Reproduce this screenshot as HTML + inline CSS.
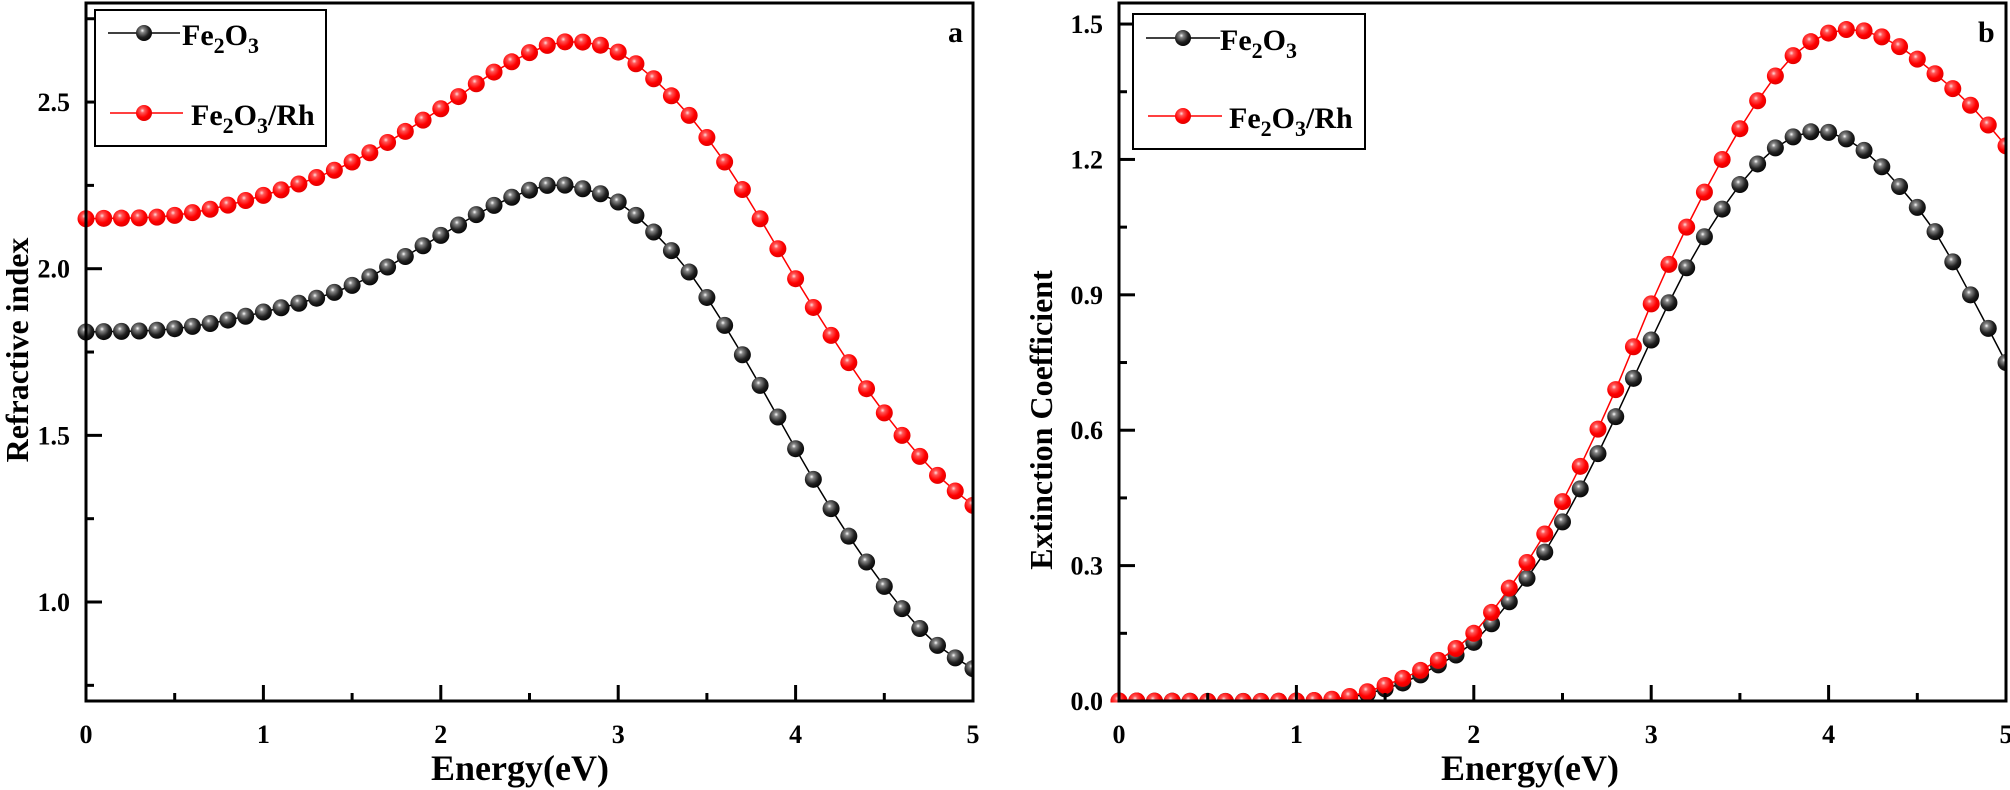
<!DOCTYPE html>
<html><head><meta charset="utf-8"><style>
body{margin:0;background:#fff}
svg{display:block;font-family:"Liberation Serif",serif;font-weight:bold}
</style></head><body>
<svg id="s" width="2010" height="790" xmlns="http://www.w3.org/2000/svg">
<defs>
<radialGradient id="gk" cx="0.4" cy="0.35" r="0.7"><stop offset="0" stop-color="#fff"/><stop offset="0.18" stop-color="#888"/><stop offset="0.6" stop-color="#222"/><stop offset="1" stop-color="#000"/></radialGradient>
<radialGradient id="gr" cx="0.4" cy="0.35" r="0.7"><stop offset="0" stop-color="#fdd"/><stop offset="0.2" stop-color="#f55"/><stop offset="0.6" stop-color="#f00"/><stop offset="1" stop-color="#d00"/></radialGradient>
</defs>
<g id="g"></g>
<!-- legend a -->
<rect x="95" y="10" width="231" height="136" fill="#fff" stroke="#000" stroke-width="2"/>
<line x1="108" y1="33" x2="180" y2="33" stroke="#000" stroke-width="1.5"/><circle cx="144" cy="33" r="8" fill="url(#gk)"/>
<text x="182" y="45" font-size="30">Fe<tspan font-size="22" dy="8">2</tspan><tspan dy="-8">O</tspan><tspan font-size="22" dy="8">3</tspan></text>
<line x1="110" y1="113" x2="183" y2="113" stroke="#f00" stroke-width="1.5"/><circle cx="144" cy="113" r="8" fill="url(#gr)"/>
<text x="191" y="125" font-size="30">Fe<tspan font-size="22" dy="8">2</tspan><tspan dy="-8">O</tspan><tspan font-size="22" dy="8">3</tspan><tspan dy="-8">/Rh</tspan></text>
<!-- legend b -->
<rect x="1133" y="14" width="232" height="135" fill="#fff" stroke="#000" stroke-width="2"/>
<line x1="1146" y1="38" x2="1220" y2="38" stroke="#000" stroke-width="1.5"/><circle cx="1183" cy="38" r="8" fill="url(#gk)"/>
<text x="1220" y="50" font-size="30">Fe<tspan font-size="22" dy="8">2</tspan><tspan dy="-8">O</tspan><tspan font-size="22" dy="8">3</tspan></text>
<line x1="1148" y1="116" x2="1222" y2="116" stroke="#f00" stroke-width="1.5"/><circle cx="1183" cy="116" r="8" fill="url(#gr)"/>
<text x="1229" y="128" font-size="30">Fe<tspan font-size="22" dy="8">2</tspan><tspan dy="-8">O</tspan><tspan font-size="22" dy="8">3</tspan><tspan dy="-8">/Rh</tspan></text>
<text x="948" y="42" font-size="30">a</text>
<text x="1978" y="42" font-size="30">b</text>
<text x="520" y="780" font-size="36" text-anchor="middle">Energy(eV)</text>
<text x="1530" y="780" font-size="36" text-anchor="middle">Energy(eV)</text>
<text transform="translate(28,350) rotate(-90)" font-size="32" text-anchor="middle">Refractive index</text>
<text transform="translate(1052,420) rotate(-90)" font-size="32" text-anchor="middle">Extinction Coefficient</text>
</svg>
<script>
var NS="http://www.w3.org/2000/svg",G=document.getElementById("g");
function el(t,a){var e=document.createElementNS(NS,t);for(var k in a)e.setAttribute(k,a[k]);G.appendChild(e);return e;}
function interp(cp,x){for(var i=0;i<cp.length-1;i++){if(x<=cp[i+1][0]+1e-9){var p0=cp[Math.max(i-1,0)],p1=cp[i],p2=cp[i+1],p3=cp[Math.min(i+2,cp.length-1)];var t=(x-p1[0])/(p2[0]-p1[0]);var m1=(p2[1]-p0[1])/(p2[0]-p0[0]||1)*(p2[0]-p1[0]),m2=(p3[1]-p1[1])/(p3[0]-p1[0]||1)*(p2[0]-p1[0]);var t2=t*t,t3=t2*t;return (2*t3-3*t2+1)*p1[1]+(t3-2*t2+t)*m1+(-2*t3+3*t2)*p2[1]+(t3-t2)*m2;}}return cp[cp.length-1][1];}
function panel(P){
 var X=function(v){return P.x0+v*(P.x5-P.x0)/5},Y=function(v){return P.yb-(v-P.ymin)*P.sy};
 // series
 P.series.forEach(function(s){
  var pts=[];for(var i=0;i<=50;i++){var x=i/10;pts.push([X(x),Y(interp(s.cp,x))]);}
  el("polyline",{points:pts.map(function(p){return p[0]+","+p[1]}).join(" "),fill:"none",stroke:s.c,"stroke-width":1.5});
  pts.forEach(function(p){if(p[0]<=P.x5+1)el("circle",{cx:p[0],cy:p[1],r:8.5,fill:s.g});});
 });
 // cover outside
 el("rect",{x:P.x5+1.5,y:0,width:40,height:720,fill:"#fff"});
 el("rect",{x:P.x0-30,y:P.yb+1.5,width:P.x5-P.x0+60,height:30,fill:"#fff"});
 el("rect",{x:P.x0,y:P.yt,width:P.x5-P.x0,height:P.yb-P.yt,fill:"none",stroke:"#000","stroke-width":3});
 for(var i=0;i<=10;i++){var x=X(i/2),L=i%2?8:16;el("line",{x1:x,y1:P.yb,x2:x,y2:P.yb-L,stroke:"#000","stroke-width":3});
  if(!(i%2)){var t=el("text",{x:x,y:P.yb+42,"font-size":26,"text-anchor":"middle"});t.textContent=i/2;}}
 P.yt_.forEach(function(v,j){var y=Y(v),L=P.major(j)?16:8;el("line",{x1:P.x0,y1:y,x2:P.x0+L,y2:y,stroke:"#000","stroke-width":3});
  if(P.major(j)){var t=el("text",{x:P.x0-16,y:y+9,"font-size":26,"text-anchor":"end"});t.textContent=v.toFixed(1);}});
}
panel({x0:86,x5:973,yb:701,yt:3,ymin:0.703,sy:333.3,
 yt_:[0.75,1.0,1.25,1.5,1.75,2.0,2.25,2.5,2.75],major:function(j){return j%2==1},
 series:[
 {c:"#000",g:"url(#gk)",cp:[[0,1.81],[0.5,1.82],[1,1.87],[1.5,1.95],[2,2.10],[2.3,2.19],[2.6,2.25],[2.8,2.24],[3.0,2.20],[3.2,2.11],[3.4,1.99],[3.6,1.83],[3.8,1.65],[4.0,1.46],[4.2,1.28],[4.4,1.12],[4.6,0.98],[4.8,0.87],[5,0.80]]},
 {c:"#f00",g:"url(#gr)",cp:[[0,2.15],[0.5,2.16],[1,2.22],[1.5,2.32],[2,2.48],[2.3,2.59],[2.6,2.67],[2.8,2.68],[3.0,2.65],[3.2,2.57],[3.4,2.46],[3.6,2.32],[3.8,2.15],[4.0,1.97],[4.2,1.80],[4.4,1.64],[4.6,1.50],[4.8,1.38],[5,1.29]]}]});
panel({x0:1119,x5:2006,yb:701,yt:3,ymin:0,sy:451.3,
 yt_:[0,0.15,0.3,0.45,0.6,0.75,0.9,1.05,1.2,1.35,1.5],major:function(j){return j%2==0},
 series:[
 {c:"#000",g:"url(#gk)",cp:[[0,0],[1.0,0],[1.3,0.008],[1.6,0.04],[1.8,0.08],[2.0,0.13],[2.2,0.22],[2.4,0.33],[2.6,0.47],[2.8,0.63],[3.0,0.80],[3.2,0.96],[3.4,1.09],[3.6,1.19],[3.8,1.25],[4.0,1.26],[4.2,1.22],[4.4,1.14],[4.6,1.04],[4.8,0.90],[5,0.75]]},
 {c:"#f00",g:"url(#gr)",cp:[[0,0],[1.0,0],[1.3,0.01],[1.6,0.05],[1.8,0.09],[2.0,0.15],[2.2,0.25],[2.4,0.37],[2.6,0.52],[2.8,0.69],[3.0,0.88],[3.2,1.05],[3.4,1.20],[3.6,1.33],[3.8,1.43],[4.0,1.48],[4.2,1.485],[4.4,1.45],[4.6,1.39],[4.8,1.32],[5,1.23]]}]});
</script>
</body></html>
